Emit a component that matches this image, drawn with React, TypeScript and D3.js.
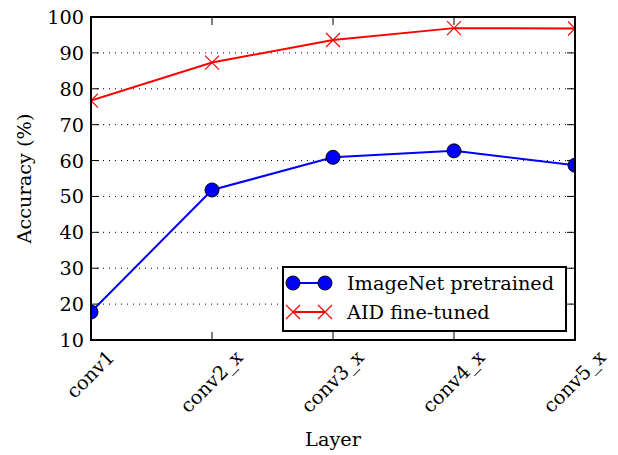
import React from "react";
import * as d3 from "d3";

const layers = ["conv1", "conv2_x", "conv3_x", "conv4_x", "conv5_x"];
const imagenetPretrained = [17.8, 51.8, 60.9, 62.7, 58.7];
const aidFineTuned = [76.7, 87.3, 93.6, 96.9, 96.8];
const yTicks = [10, 20, 30, 40, 50, 60, 70, 80, 90, 100];

const W = 618, H = 455;
const M = { left: 91, right: 575, top: 17, bottom: 340 };
const FONT = "'DejaVu Serif', serif";
const FS = 19.3;

function measure(t: string, fs: number) {
  const c = document.createElement("canvas").getContext("2d")!;
  c.font = `${fs}px 'DejaVu Serif'`;
  return c.measureText(t).width;
}

export default function App() {
  const x = d3.scalePoint<string>().domain(layers).range([M.left, M.right]);
  const y = d3.scaleLinear().domain([10, 100]).range([M.bottom, M.top]);
  const line = d3.line<number>().x((_, i) => x(layers[i])!).y((d) => y(d));

  const cross = (cx: number, cy: number, s: number, key: string) => (
    <path key={key} d={`M${cx - s},${cy - s}L${cx + s},${cy + s}M${cx - s},${cy + s}L${cx + s},${cy - s}`} stroke="#ff0000" strokeWidth={1.2} fill="none" />
  );

  return (
    <svg width={W} height={H} style={{ position: "absolute", left: 0, top: 0, background: "#fff" }} fontFamily={FONT}>
      <defs>
        <clipPath id="plot">
          <rect x={M.left} y={M.top} width={M.right - M.left} height={M.bottom - M.top} />
        </clipPath>
      </defs>
      {yTicks.slice(1, -1).map((t) => (
        <line key={"g" + t} x1={M.left} x2={M.right} y1={y(t)} y2={y(t)} stroke="#000" strokeWidth={1} strokeDasharray="1,5" />
      ))}
      {yTicks.map((t) => (
        <g key={"yt" + t}>
          <line x1={M.left} x2={M.left + 8} y1={y(t)} y2={y(t)} stroke="#000" />
          <line x1={M.right} x2={M.right - 8} y1={y(t)} y2={y(t)} stroke="#000" />
          <text x={M.left - 7} y={y(t)} dy="0.36em" textAnchor="end" fontSize={FS} fill="#000">{t}</text>
        </g>
      ))}
      {layers.map((l) => {
        const w = measure(l, FS);
        const bh = (w + FS * 0.8) / Math.SQRT2;
        return (
          <g key={"xt" + l}>
            <line x1={x(l)} x2={x(l)} y1={M.bottom} y2={M.bottom - 8} stroke="#000" />
            <line x1={x(l)} x2={x(l)} y1={M.top} y2={M.top + 8} stroke="#000" />
            <text transform={`translate(${x(l)!},${349 + bh / 2}) rotate(-45)`} textAnchor="middle" dy="0.3em" fontSize={FS} fill="#000">{l}</text>
          </g>
        );
      })}
      <g clipPath="url(#plot)">
        <path d={line(imagenetPretrained)!} fill="none" stroke="#0000ff" strokeWidth={2} />
        <path d={line(aidFineTuned)!} fill="none" stroke="#ff0000" strokeWidth={2} />
        {imagenetPretrained.map((v, i) => (
          <circle key={"c" + i} cx={x(layers[i])} cy={y(v)} r={7} fill="#0000ff" stroke="#000" strokeWidth={1} />
        ))}
        {aidFineTuned.map((v, i) => cross(x(layers[i])!, y(v), 7, "x" + i))}
      </g>
      <rect x={M.left} y={M.top} width={M.right - M.left} height={M.bottom - M.top} fill="none" stroke="#000" strokeWidth={2} />
      <text transform={`translate(31,${(M.top + M.bottom) / 2}) rotate(-90)`} textAnchor="middle" fontSize={FS} fill="#000">Accuracy (%)</text>
      <text x={(M.left + M.right) / 2} y={446} textAnchor="middle" fontSize={FS} fill="#000">Layer</text>
      <g>
        <rect x={283} y={267} width={283} height={64} fill="#fff" stroke="#000" strokeWidth={2} />
        <line x1={293} x2={325} y1={283} y2={283} stroke="#0000ff" strokeWidth={2} />
        <circle cx={293} cy={283} r={7} fill="#0000ff" stroke="#000" />
        <circle cx={325} cy={283} r={7} fill="#0000ff" stroke="#000" />
        <text x={347} y={283} dy="0.36em" fontSize={FS} fill="#000">ImageNet pretrained</text>
        <line x1={293} x2={325} y1={312} y2={312} stroke="#ff0000" strokeWidth={2} />
        {cross(293, 312, 7, "l1")}
        {cross(325, 312, 7, "l2")}
        <text x={347} y={312} dy="0.36em" fontSize={FS} fill="#000">AID fine-tuned</text>
      </g>
    </svg>
  );
}
